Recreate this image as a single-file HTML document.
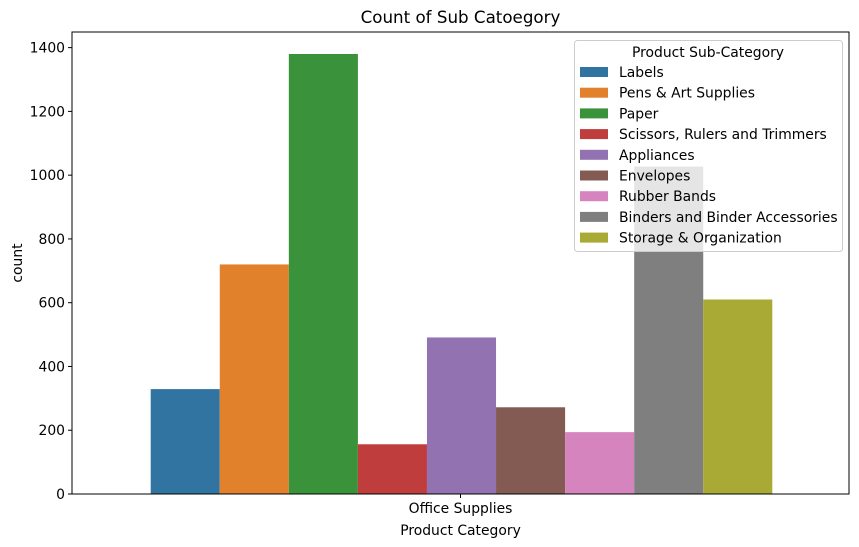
<!DOCTYPE html>
<html><head><meta charset="utf-8"><style>body{margin:0;background:#fff}svg{display:block;font-family:"DejaVu Sans","Liberation Sans",sans-serif}</style></head>
<body>
<svg id="c" width="859" height="547"></svg>
<script>
const categories=["Labels","Pens & Art Supplies","Paper","Scissors, Rulers and Trimmers","Appliances","Envelopes","Rubber Bands","Binders and Binder Accessories","Storage & Organization"];
const counts=[329,720,1380,156,491,272,194,1027,610];
const colors=["#3274a1","#e1812c","#3a923a","#c03d3e","#9372b2","#845b53","#d684bd","#7f7f7f","#a9aa35"];
const yTicks=[0,200,400,600,800,1000,1200,1400];
const L=72,R=849,T=32,B=494;
const yMax=1449;
const y=v=>B-(v/yMax)*(B-T);
const s=document.getElementById('c');const NS="http://www.w3.org/2000/svg";
function mk(t,a,p){const e=document.createElementNS(NS,t);for(const k in a)e.setAttribute(k,a[k]);(p||s).appendChild(e);return e;}
const bw=(R-L)*0.8/categories.length, x0=(L+R)/2-(R-L)*0.4+1;
categories.forEach((c,i)=>{const r=mk('rect',{x:x0+i*bw,y:y(counts[i]),width:bw,height:B-y(counts[i]),fill:colors[i]});

});
yTicks.forEach(v=>{mk('line',{x1:L-4,x2:L,y1:y(v),y2:y(v),stroke:'#000'});
const t=mk('text',{x:L-7,y:y(v)+5,'text-anchor':'end','font-size':13.9});t.textContent=v;

});
const cx=(L+R)/2;mk('line',{x1:cx,x2:cx,y1:B,y2:B+4,stroke:'#000'});
let t=mk('text',{x:cx,y:B+19,'text-anchor':'middle','font-size':13.9});t.textContent="Office Supplies";

t=mk('text',{x:cx,y:535,'text-anchor':'middle','font-size':13.9});t.textContent="Product Category";

t=mk('text',{x:22,y:(T+B)/2,'text-anchor':'middle','font-size':13.9,transform:`rotate(-90 22 ${(T+B)/2})`});t.textContent="count";

t=mk('text',{x:cx,y:23,'text-anchor':'middle','font-size':16.7});t.textContent="Count of Sub Catoegory";

mk('rect',{x:L,y:T,width:R-L,height:B-T,fill:'none',stroke:'#000','stroke-width':1});
const g=mk('g',{});
mk('rect',{x:574.5,y:40.5,width:268,height:211,rx:3,fill:'rgba(255,255,255,0.8)',stroke:'#ccc'},g);
t=mk('text',{x:708,y:57,'text-anchor':'middle','font-size':13.9},g);t.textContent="Product Sub-Category";
categories.forEach((c,i)=>{const yy=72+i*20.7;
mk('rect',{x:580,y:yy-5,width:28,height:10,fill:colors[i]},g);
const e=mk('text',{x:619,y:yy+5,'font-size':13.9},g);e.textContent=c;

});
</script>
</body></html>
